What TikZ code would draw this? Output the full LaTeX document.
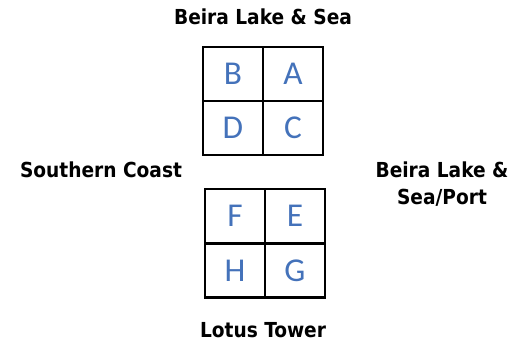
\documentclass[tikz,border=0pt]{standalone}
\usepackage{fontspec}
\setmainfont{DejaVu Sans Condensed}
\newfontfamily\cellfont{Carlito}
\usetikzlibrary{positioning}
\definecolor{letterblue}{RGB}{68,114,186}

\begin{document}
\begin{tikzpicture}[
  x=0.75pt, y=-0.75pt,
  every node/.style={font=\bfseries\fontsize{15.5}{20.5}\selectfont},
  cell/.style={draw, line width=1.9pt, minimum width=45pt, minimum height=40.5pt,
               inner sep=0pt, text=letterblue, font=\cellfont\fontsize{25}{28}\selectfont},
  place/.style={align=center, text=black}
]
  \useasboundingbox (0, 0) rectangle (511, 344);

  % --- Top block ---
  \node[cell] (b) at (233, 74)  {B};
  \node[cell] (a) at (293, 74)  {A};
  \node[cell] (d) at (233, 128) {D};
  \node[cell] (c) at (293, 128) {C};

  % --- Bottom block ---
  \node[cell] (f) at (235, 216) {F};
  \node[cell] (e) at (295, 216) {E};
  \node[cell] (h) at (235, 270.5) {H};
  \node[cell] (g) at (295, 270.5) {G};

  % --- Surroundings ---
  \node[place] (north) at (263, 17)  {Beira Lake \& Sea};
  \node[place] (west)  at (101, 170) {Southern Coast};
  \node[place] (east)  at (442, 184) {Beira Lake \&\\Sea/Port};
  \node[place] (south) at (263, 330) {Lotus Tower};

\end{tikzpicture}
\end{document}
